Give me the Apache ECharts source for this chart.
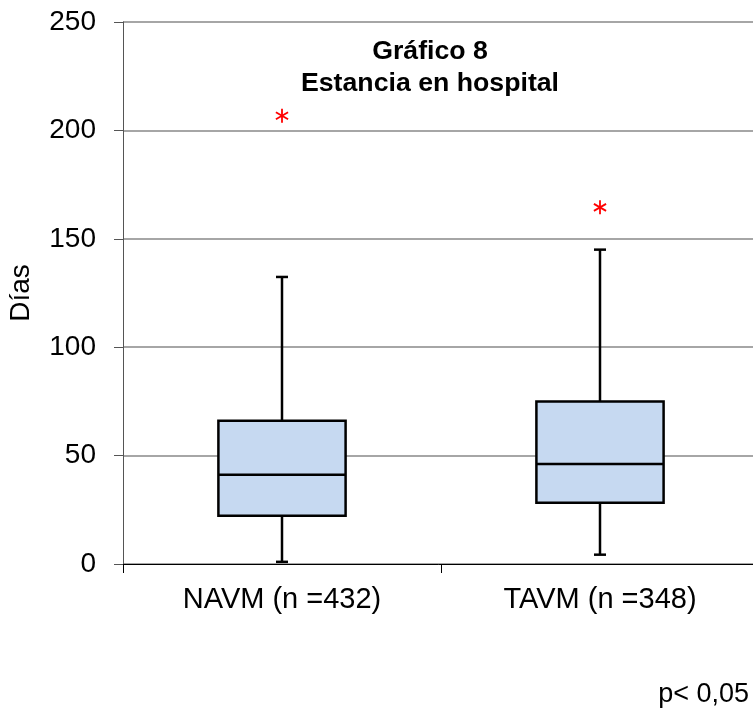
<!DOCTYPE html>
<html><head><meta charset="utf-8">
<script src="https://cdn.jsdelivr.net/npm/echarts@6/dist/echarts.min.js"></script>
<style>html,body{margin:0;padding:0;background:#fff}#c{width:753px;height:713px}</style>
</head><body><div id="c"></div>
<script>
const categories = ['NAVM (n =432)', 'TAVM (n =348)'];
const whiskerLow = [1, 4.3];
const q1 = [22.3, 28.3];
const median = [41.2, 46.1];
const q3 = [66.1, 74.9];
const whiskerHigh = [132.4, 145];
const outliers = [[0, 206.8], [1, 164.5]];
const yTicks = [0, 50, 100, 150, 200, 250];

const boxData = categories.map((c, i) => [i, whiskerLow[i], q1[i], median[i], q3[i], whiskerHigh[i]]);
const chart = echarts.init(document.getElementById('c'));
const font = 'Liberation Sans, Arial, sans-serif';
chart.setOption({
  animation: false,
  title: {
    text: 'Gráfico 8\nEstancia en hospital',
    left: 425, top: 31, textAlign: 'center',
    textStyle: { fontFamily: font, fontSize: 26.7, fontWeight: 'bold', color: '#000', lineHeight: 32 }
  },
  graphic: [{
    type: 'text', right: 4, top: 681,
    style: { text: 'p< 0,05', font: '27px ' + font, fill: '#000' }
  }],
  grid: { left: 123, right: -6, top: 22, bottom: 149, containLabel: false, outerBoundsMode: 'none' },
  xAxis: {
    type: 'category', data: categories,
    axisLine: { lineStyle: { color: '#000', width: 1 } },
    axisTick: { show: true, length: 9, lineStyle: { color: '#000' } },
    axisLabel: { fontFamily: font, fontSize: 29, color: '#000', margin: 21 },
    splitLine: { show: false }
  },
  yAxis: {
    type: 'value', min: 0, max: 250, interval: 50,
    name: 'Días', nameLocation: 'middle', nameGap: 88, nameRotate: 90,
    nameTextStyle: { fontFamily: font, fontSize: 28, color: '#000' },
    axisLine: { show: true, lineStyle: { color: '#555', width: 1 } },
    axisTick: { show: true, length: 9, lineStyle: { color: '#555' } },
    axisLabel: { fontFamily: font, fontSize: 28, color: '#000', margin: 27,
      formatter: v => yTicks.includes(v) ? String(v) : '' },
    splitLine: { show: true, lineStyle: { color: '#888', width: 1.5 } }
  },
  series: [{
    type: 'custom',
    data: boxData,
    encode: { x: 0, y: [1, 2, 3, 4, 5] },
    renderItem: function (params, api) {
      const idx = api.value(0);
      const pMin = api.coord([idx, api.value(1)]);
      const pQ1 = api.coord([idx, api.value(2)]);
      const pMed = api.coord([idx, api.value(3)]);
      const pQ3 = api.coord([idx, api.value(4)]);
      const pMax = api.coord([idx, api.value(5)]);
      const w = api.size([1, 0])[0] * 0.4;
      const cap = 12;
      const x = pMed[0];
      const ls = { stroke: '#000', lineWidth: 2.5 };
      return {
        type: 'group',
        children: [
          { type: 'line', shape: { x1: x, y1: pMax[1], x2: x, y2: pQ3[1] }, style: ls },
          { type: 'line', shape: { x1: x, y1: pQ1[1], x2: x, y2: pMin[1] }, style: ls },
          { type: 'line', shape: { x1: x - cap / 2, y1: pMax[1], x2: x + cap / 2, y2: pMax[1] }, style: ls },
          { type: 'line', shape: { x1: x - cap / 2, y1: pMin[1], x2: x + cap / 2, y2: pMin[1] }, style: ls },
          { type: 'rect', shape: { x: x - w / 2, y: pQ3[1], width: w, height: pQ1[1] - pQ3[1] },
            style: { fill: '#c6d9f1', stroke: '#000', lineWidth: 2.5 } },
          { type: 'line', shape: { x1: x - w / 2, y1: pMed[1], x2: x + w / 2, y2: pMed[1] }, style: ls }
        ]
      };
    }
  }, {
    type: 'custom',
    data: outliers,
    encode: { x: 0, y: 1 },
    renderItem: function (params, api) {
      const p = api.coord([api.value(0), api.value(1)]);
      const r = 7;
      const s = { stroke: '#ff0000', lineWidth: 1.8 };
      const dx = r * 0.87, dy = r * 0.5;
      return {
        type: 'group',
        children: [
          { type: 'line', shape: { x1: p[0], y1: p[1] - r, x2: p[0], y2: p[1] + r }, style: s },
          { type: 'line', shape: { x1: p[0] - dx, y1: p[1] - dy, x2: p[0] + dx, y2: p[1] + dy }, style: s },
          { type: 'line', shape: { x1: p[0] - dx, y1: p[1] + dy, x2: p[0] + dx, y2: p[1] - dy }, style: s }
        ]
      };
    }
  }]
});
</script></body></html>
